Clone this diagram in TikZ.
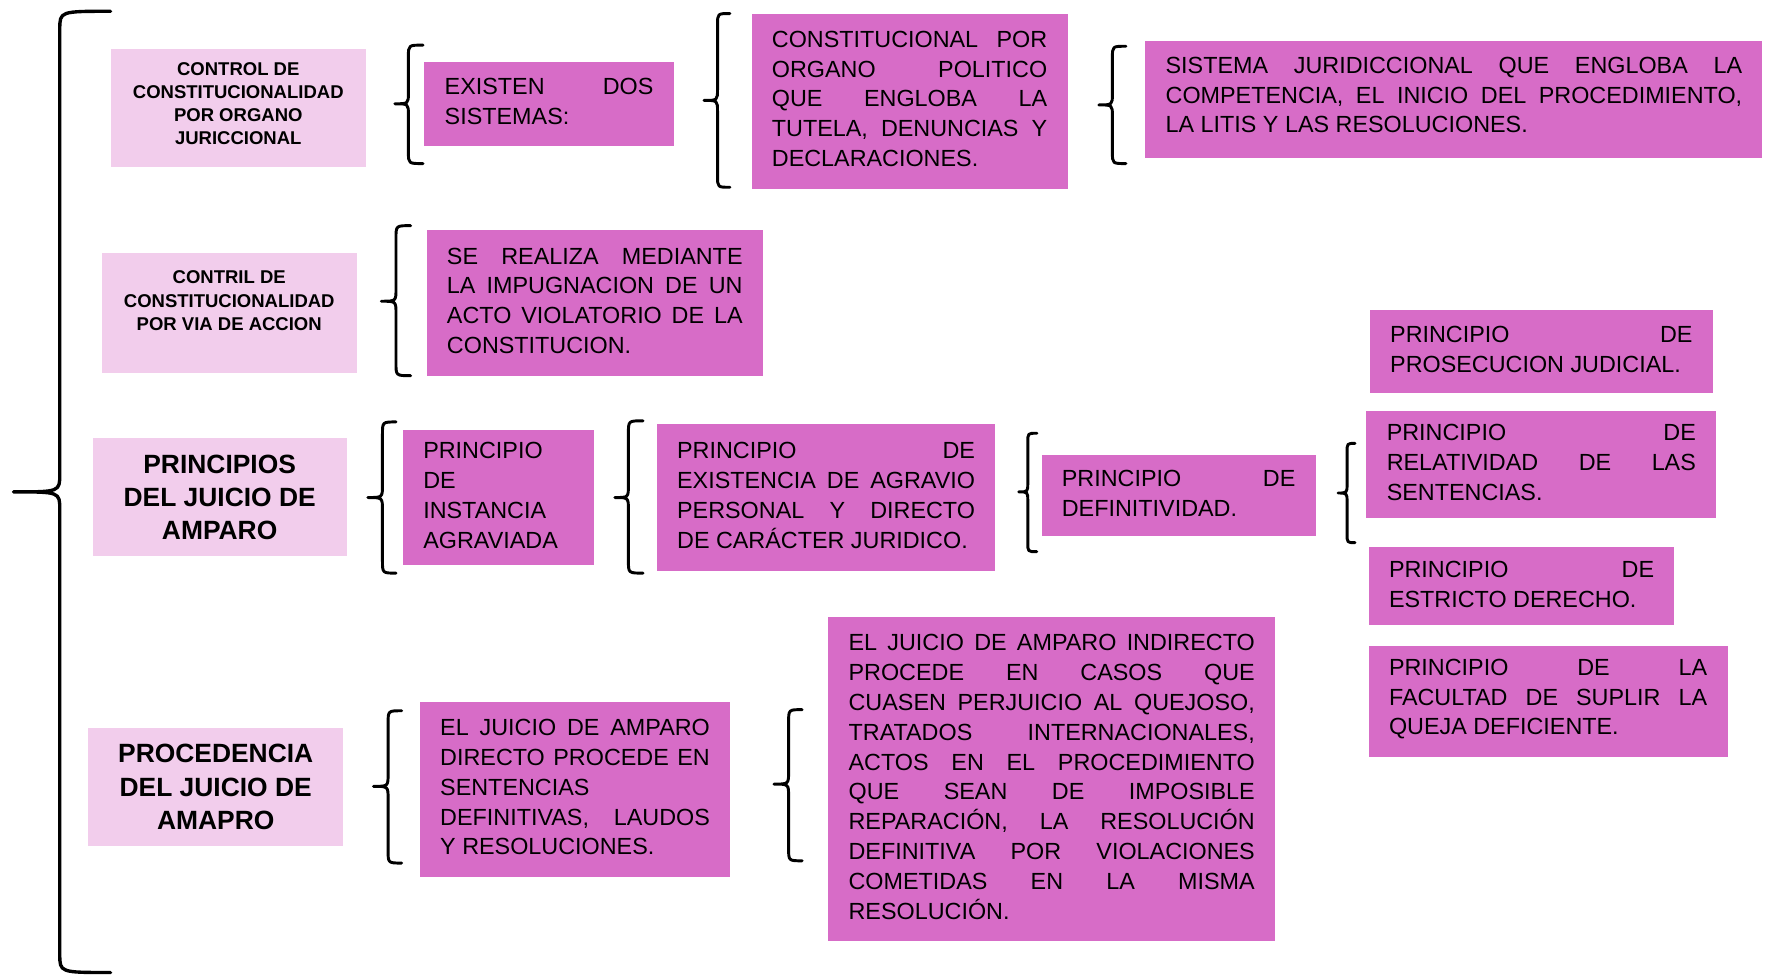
\documentclass[tikz,border=0pt]{standalone}
\usepackage{fontspec}
\setmainfont{Liberation Sans}
\definecolor{purp}{HTML}{D76CC7}
\definecolor{lpink}{HTML}{F2CDEC}
\tolerance=10000
\hyphenpenalty=10000
\exhyphenpenalty=10000
\newcommand\pfont{\fontsize{20.7}{26.5}\selectfont\tolerance=10000\hyphenpenalty=10000}
\newcommand\sfontb{\fontsize{16.4}{20.5}\selectfont\bfseries}
\newcommand\lfontb{\fontsize{23.4}{29.5}\selectfont\bfseries}
\newcommand\brc[7]{%
  \draw[bracestyle] (#3,#4) .. controls (#2,#4) .. (#2,{#4+#7}) -- (#2,{#5-#7})
    .. controls (#2,#5) .. (#1,#5) .. controls (#2,#5) .. (#2,{#5+#7})
    -- (#2,{#6-#7}) .. controls (#2,#6) .. (#3,#6);}
\tikzset{
  pbox/.style={fill=purp, inner xsep=18pt, inner ysep=0pt, anchor=north west,
    align=justify, font=\pfont, text=black, execute at end node={\par\kern4pt}},
  lbox/.style={fill=lpink, inner sep=0pt, anchor=north west, align=center, text=black},
  bracestyle/.style={line width=2.6pt, line cap=round, line join=round, black}
}
\begin{document}
\begin{tikzpicture}[x=1pt,y=-1pt]
\useasboundingbox (0,0) rectangle (1568,868.6);
% light boxes
\node[lbox, font=\sfontb, minimum width=226pt, minimum height=105pt] (l1) at (98,43)
  {CONTROL DE\\CONSTITUCIONALIDAD\\POR ORGANO\\JURICCIONAL\\[-13pt]\mbox{}};
\node[lbox, font=\sfontb, minimum width=226pt, minimum height=106pt] (l2) at (90,224)
  {CONTRIL DE\\CONSTITUCIONALIDAD\\POR VIA DE ACCION\\[1pt]\mbox{}};
\node[lbox, font=\lfontb, minimum width=225pt, minimum height=105pt] (l3) at (82,388)
  {PRINCIPIOS\\DEL JUICIO DE\\AMPARO};
\node[lbox, font=\lfontb, minimum width=226pt, minimum height=105pt] (l4) at (78,645)
  {PROCEDENCIA\\DEL JUICIO DE\\AMAPRO};
% purple boxes
\node[pbox, text width=185pt, minimum height=74pt] (p1) at (376,55)
  {EXISTEN DOS\linebreak SISTEMAS:};
\node[pbox, text width=244pt, minimum height=155pt] (p2) at (666,12)
  {CONSTITUCIONAL POR\linebreak ORGANO POLITICO\linebreak QUE ENGLOBA LA\linebreak TUTELA, DENUNCIAS Y\linebreak DECLARACIONES.};
\node[pbox, text width=511pt, minimum height=104pt, execute at end node={\kern4pt}] (p3) at (1015,36)
  {SISTEMA JURIDICCIONAL QUE ENGLOBA LA\linebreak COMPETENCIA, EL INICIO DEL PROCEDIMIENTO,\linebreak LA LITIS Y LAS RESOLUCIONES.};
\node[pbox, text width=262pt, minimum height=129pt] (p4) at (378,204)
  {SE REALIZA MEDIANTE\linebreak LA IMPUGNACION DE UN\linebreak ACTO VIOLATORIO DE LA\linebreak CONSTITUCION.};
\node[pbox, text width=133pt, minimum height=120pt] (p5) at (357,381)
  {PRINCIPIO\\ DE\\ INSTANCIA\\ AGRAVIADA};
\node[pbox, text width=264pt, minimum height=130pt] (p6) at (582,376)
  {PRINCIPIO DE\linebreak EXISTENCIA DE AGRAVIO\linebreak PERSONAL Y DIRECTO\linebreak DE CARÁCTER JURIDICO.};
\node[pbox, text width=207pt, minimum height=72pt] (p7) at (923,403)
  {PRINCIPIO DE\linebreak DEFINITIVIDAD.};
\node[pbox, text width=268pt, minimum height=73pt] (p8) at (1214,275)
  {PRINCIPIO DE\linebreak PROSECUCION JUDICIAL.};
\node[pbox, text width=274pt, minimum height=95pt] (p9) at (1211,364)
  {PRINCIPIO DE\linebreak RELATIVIDAD DE LAS\linebreak SENTENCIAS.};
\node[pbox, text width=235pt, minimum height=69pt] (p10) at (1213,485)
  {PRINCIPIO DE\linebreak ESTRICTO DERECHO.};
\node[pbox, text width=282pt, minimum height=99pt] (p11) at (1213,572)
  {PRINCIPIO DE LA\linebreak FACULTAD DE SUPLIR LA\linebreak QUEJA DEFICIENTE.};
\node[pbox, text width=239pt, minimum height=155pt] (p12) at (372,622)
  {EL JUICIO DE AMPARO\linebreak DIRECTO PROCEDE EN\linebreak SENTENCIAS\\ DEFINITIVAS, LAUDOS\linebreak Y RESOLUCIONES.};
\node[pbox, text width=360pt, minimum height=287pt] (p13) at (734,547)
  {EL JUICIO DE AMPARO INDIRECTO\linebreak PROCEDE EN CASOS QUE\linebreak CUASEN PERJUICIO AL QUEJOSO,\linebreak TRATADOS INTERNACIONALES,\linebreak ACTOS EN EL PROCEDIMIENTO\linebreak QUE SEAN DE IMPOSIBLE\linebreak REPARACIÓN, LA RESOLUCIÓN\linebreak DEFINITIVA POR VIOLACIONES\linebreak COMETIDAS EN LA MISMA\linebreak RESOLUCIÓN.};
% braces
\begin{scope}[bracestyle/.append style={line width=3pt}]
\brc{12}{53}{98}{10}{436}{862}{16}
\end{scope}
\brc{350}{362}{375}{40}{92}{145}{10}
\brc{624}{636}{647}{12}{89}{166}{10}
\brc{974}{986}{998}{41}{93}{145}{10}
\brc{338}{351}{364}{200}{267}{333}{11}
\brc{326}{339}{351}{374}{441}{508}{11}
\brc{545}{557}{570}{373}{441}{508}{11}
\brc{903}{911}{919}{384}{436}{489}{8}
\brc{1186}{1194}{1201}{393}{437}{481}{8}
\brc{331}{344}{356}{630}{697}{765}{11}
\brc{686}{699}{711}{629}{695}{763}{11}
\end{tikzpicture}
\end{document}
